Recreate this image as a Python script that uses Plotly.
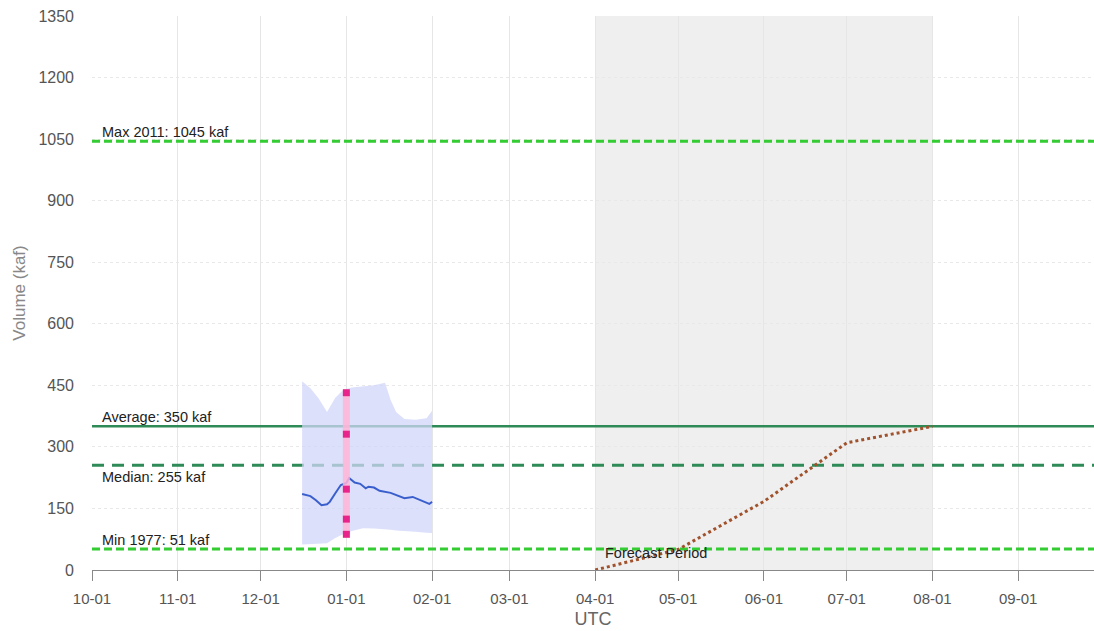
import plotly.graph_objects as go

# ---- data ----
stat_names = ["Max 2011: 1045 kaf", "Average: 350 kaf", "Median: 255 kaf", "Min 1977: 51 kaf"]
stat_values = [1045, 350, 255, 51]

band_dates = ["2022-12-16", "2022-12-19", "2022-12-22", "2022-12-25", "2022-12-28", "2022-12-31",
              "2023-01-03", "2023-01-07", "2023-01-11", "2023-01-15", "2023-01-17", "2023-01-19",
              "2023-01-22", "2023-01-26", "2023-01-30", "2023-02-01"]
band_upper = [460, 443, 418, 385, 420, 440, 445, 447, 450, 456, 414, 385, 368, 366, 370, 388]
band_lower = [62, 63, 64, 65, 78, 88, 95, 102, 101, 100, 98, 96, 94, 93, 91, 90]

median_dates = ["2022-12-16", "2022-12-19", "2022-12-21", "2022-12-23", "2022-12-25", "2022-12-26",
                "2022-12-28", "2022-12-30", "2023-01-01", "2023-01-02", "2023-01-04", "2023-01-06",
                "2023-01-08", "2023-01-09", "2023-01-11", "2023-01-13", "2023-01-17", "2023-01-20",
                "2023-01-22", "2023-01-25", "2023-01-28", "2023-01-31", "2023-02-01"]
median_values = [185, 180, 170, 158, 160, 166, 187, 207, 212, 224, 213, 210, 199, 203, 201, 193,
                 188, 180, 175, 178, 169, 161, 166]

fcst_point_date = ["2023-01-01"] * 5
fcst_point_values = [432, 331, 197, 124, 87]

forecast_dates = ["2023-04-01", "2023-05-01", "2023-06-01", "2023-07-01", "2023-08-01"]
forecast_values = [0, 50, 167, 310, 350]

forecast_period = ["2023-04-01", "2023-08-01"]
x_range = ["2022-10-01", "2023-09-28T10:00"]
y_ticks = [0, 150, 300, 450, 600, 750, 900, 1050, 1200, 1350]

# ---- figure ----
fig = go.Figure()

# stat lines
stat_styles = [
    dict(color="#33cc33", width=3, dash="8px,4px"),
    dict(color="#2e8b57", width=2.5, dash="solid"),
    dict(color="#2e8b57", width=3, dash="12px,8px"),
    dict(color="#33cc33", width=3, dash="8px,4px"),
]
for v, st in zip(stat_values, stat_styles):
    fig.add_trace(go.Scatter(x=x_range, y=[v, v], mode="lines", line=st,
                             showlegend=False, hoverinfo="skip"))

# forecast dotted line
fig.add_trace(go.Scatter(x=forecast_dates, y=forecast_values, mode="lines",
                         line=dict(color="#a0522d", width=3, dash="dot"), showlegend=False))

# band (drawn over the stat lines)
fig.add_trace(go.Scatter(x=band_dates, y=band_lower, mode="lines", line=dict(width=0),
                         showlegend=False, hoverinfo="skip"))
fig.add_trace(go.Scatter(x=band_dates, y=band_upper, mode="lines", line=dict(width=0),
                         fill="tonexty", fillcolor="rgba(208,214,248,0.75)",
                         showlegend=False, hoverinfo="skip"))

# median line
fig.add_trace(go.Scatter(x=median_dates, y=median_values, mode="lines",
                         line=dict(color="#3a5fcd", width=2), showlegend=False))

# pink bar + markers
fig.add_trace(go.Scatter(x=[fcst_point_date[0], fcst_point_date[0]],
                         y=[min(fcst_point_values), max(fcst_point_values)], mode="lines",
                         line=dict(color="rgba(255,180,215,0.85)", width=7), showlegend=False))
fig.add_trace(go.Scatter(x=fcst_point_date, y=fcst_point_values, mode="markers",
                         marker=dict(symbol="square", size=7, color="#e8248a"), showlegend=False))

# forecast period band
fig.add_shape(type="rect", xref="x", yref="paper", x0=forecast_period[0], x1=forecast_period[1],
              y0=0, y1=1, fillcolor="#efefef", line=dict(width=0), layer="below")

# labels
label_pos = [("bottom", -1), ("bottom", -1), ("top", -2), ("bottom", -1)]
for name, v, (ya, ys) in zip(stat_names, stat_values, label_pos):
    fig.add_annotation(x="2022-10-04", y=v, text=name, showarrow=False, xanchor="left",
                       yanchor=ya, yshift=ys, font=dict(size=14.5, color="#222"))

fig.add_annotation(x="2023-04-04", y=0, text="Forecast Period", showarrow=False, xanchor="left",
                   yanchor="middle", yshift=17, font=dict(size=14.5, color="#222"))

fig.update_layout(
    width=1094, height=631,
    margin=dict(l=92, r=0, t=16, b=61),
    paper_bgcolor="white", plot_bgcolor="white",
    font=dict(family="Liberation Sans, Arial, sans-serif", color="#666", size=15),
    xaxis=dict(
        type="date", range=x_range, tick0="2022-10-01", dtick="M1", tickformat="%m-%d",
        showgrid=True, gridcolor="#e6e6e6", gridwidth=1,
        showline=True, linecolor="#888", linewidth=1,
        ticks="outside", ticklen=10, tickcolor="#888", ticklabelstandoff=5,
        tickfont=dict(size=15, color="#555"),
        title=dict(text="UTC", font=dict(size=18, color="#666"), standoff=6),
        zeroline=False,
    ),
    yaxis=dict(
        range=[0, 1350], tickvals=y_ticks, showgrid=True, gridcolor="#e8e8e8", griddash="dot",
        showline=False, zeroline=False,
        tickfont=dict(size=16, color="#555"), ticks="", ticklabelstandoff=17,
        title=dict(text="Volume (kaf)", font=dict(size=17, color="#888"), standoff=8),
    ),
    showlegend=False,
)

fig.write_html("out.html")
